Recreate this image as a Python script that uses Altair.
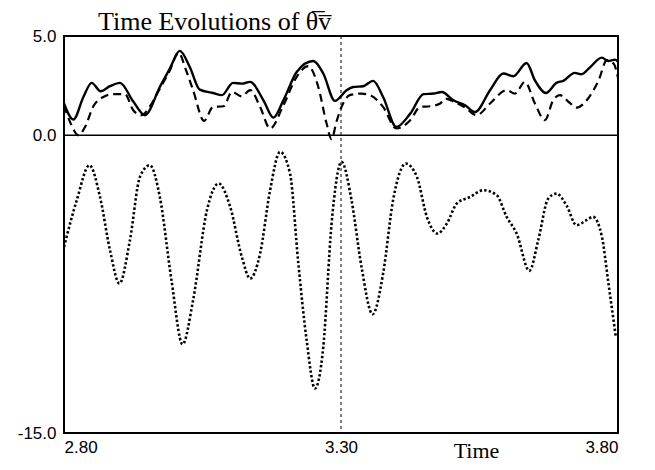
import altair as alt
import pandas as pd

# ---- data ----
solid_t = [2.800, 2.817, 2.835, 2.850, 2.866, 2.883, 2.901, 2.925, 2.946, 2.973, 2.991, 3.009,
           3.027, 3.045, 3.069, 3.085, 3.105, 3.121, 3.136, 3.160, 3.178, 3.196, 3.220, 3.250,
           3.268, 3.289, 3.310, 3.322, 3.340, 3.358, 3.376, 3.400, 3.425, 3.449, 3.467, 3.482,
           3.503, 3.524, 3.542, 3.569, 3.593, 3.611, 3.635, 3.650, 3.670, 3.689, 3.701, 3.722,
           3.734, 3.749, 3.771, 3.782, 3.795, 3.800]
solid_v = [1.60, 0.79, 1.93, 2.64, 2.22, 2.47, 2.64, 1.70, 1.01, 2.43, 3.36, 4.25,
           3.44, 2.30, 2.13, 2.02, 2.64, 2.60, 2.69, 1.76, 0.89, 1.76, 3.19, 3.74,
           3.11, 1.73, 2.27, 2.43, 2.47, 2.74, 1.93, 0.42, 1.09, 2.07, 2.10, 2.18,
           1.76, 1.51, 1.17, 2.27, 3.11, 2.97, 3.64, 2.77, 2.13, 2.64, 2.74, 3.14,
           3.07, 3.41, 3.91, 3.74, 3.81, 3.70]

dashed_t = [2.800, 2.812, 2.826, 2.838, 2.853, 2.871, 2.889, 2.910, 2.925, 2.940, 2.955, 2.973,
            2.990, 3.007, 3.020, 3.033, 3.053, 3.069, 3.088, 3.103, 3.121, 3.136, 3.154, 3.172,
            3.196, 3.220, 3.241, 3.259, 3.274, 3.283, 3.292, 3.301, 3.316, 3.337, 3.352, 3.376,
            3.400, 3.425, 3.443, 3.461, 3.479, 3.488, 3.503, 3.524, 3.545, 3.569, 3.599, 3.614,
            3.632, 3.650, 3.668, 3.683, 3.695, 3.713, 3.725, 3.746, 3.765, 3.780, 3.792, 3.800]
dashed_v = [1.50, 0.60, 0.00, 0.42, 1.46, 1.93, 2.07, 2.07, 1.26, 1.01, 1.45, 2.35,
            3.20, 4.15, 3.30, 2.27, 0.72, 1.43, 1.46, 2.18, 1.96, 2.27, 1.43, 0.34,
            1.51, 2.94, 3.48, 2.43, 0.59, -0.20, 0.70, 1.43, 2.02, 2.10, 2.02, 1.43,
            0.34, 0.76, 1.43, 1.46, 1.60, 1.85, 1.70, 1.40, 1.01, 1.60, 2.27, 2.10,
            2.69, 1.60, 0.76, 1.76, 2.02, 1.63, 1.39, 1.85, 2.77, 3.78, 3.61, 2.90]

dotted_t = [2.800, 2.823, 2.846, 2.865, 2.883, 2.900, 2.919, 2.937, 2.955, 2.973, 2.994, 3.014,
            3.033, 3.058, 3.079, 3.100, 3.121, 3.136, 3.154, 3.172, 3.190, 3.208, 3.223, 3.238,
            3.253, 3.268, 3.283, 3.301, 3.319, 3.337, 3.357, 3.376, 3.394, 3.417, 3.437, 3.455,
            3.474, 3.491, 3.509, 3.533, 3.557, 3.581, 3.599, 3.617, 3.640, 3.656, 3.674, 3.689,
            3.707, 3.725, 3.743, 3.755, 3.771, 3.782, 3.796]
dotted_v = [-5.63, -3.27, -1.51, -3.11, -5.79, -7.47, -5.29, -2.10, -1.51, -3.11, -7.30, -10.53,
            -8.31, -3.78, -2.43, -3.61, -6.13, -7.22, -5.96, -2.77, -0.84, -1.93, -6.46, -10.33,
            -12.76, -10.66, -4.45, -1.34, -3.27, -6.63, -9.02, -6.97, -3.27, -1.43, -2.10, -4.11,
            -4.95, -4.45, -3.44, -3.11, -2.77, -3.02, -4.11, -4.95, -6.83, -5.29, -3.19, -2.94,
            -3.53, -4.53, -4.28, -4.11, -5.12, -7.30, -10.16]

x_ticks = [2.80, 3.30, 3.80]
y_ticks = [-15.0, 0.0, 5.0]
marker_time = [3.30]
zero_level = [0.0]

solid_df = pd.DataFrame({"t": solid_t, "v": solid_v})
dashed_df = pd.DataFrame({"t": dashed_t, "v": dashed_v})
dotted_df = pd.DataFrame({"t": dotted_t, "v": dotted_v})

xs = alt.Scale(domain=[2.8, 3.8], nice=False, zero=False)
ys = alt.Scale(domain=[-15, 5], nice=False, zero=False)

x_enc = alt.X("t:Q", scale=xs, axis=alt.Axis(
    values=x_ticks, format=".2f", title="Time", grid=False, domain=False, ticks=False,
    labelFont="Liberation Sans", labelFontSize=17, labelColor="black", labelPadding=6,
    titleFont="Liberation Serif", titleFontSize=22, titleFontWeight="normal", titleColor="black",
    titleX=412, titleY=24.5, titleBaseline="alphabetic"))
y_enc = alt.Y("v:Q", scale=ys, axis=alt.Axis(
    values=y_ticks, format=".1f", title=None, grid=False, domain=False, ticks=False,
    labelExpr="replace(datum.label, '\u2212', '-')",
    labelFont="Liberation Sans", labelFontSize=17, labelColor="black", labelPadding=8))

solid = alt.Chart(solid_df).mark_line(color="black", strokeWidth=2.4, interpolate="monotone").encode(x=x_enc, y=y_enc)
dashed = alt.Chart(dashed_df).mark_line(color="black", strokeWidth=2.2, strokeDash=[8, 5], interpolate="monotone").encode(x="t:Q", y="v:Q")
dotted = alt.Chart(dotted_df).mark_line(color="black", strokeWidth=2.6, strokeDash=[2.4, 2.2], interpolate="monotone").encode(x="t:Q", y="v:Q")

zero = alt.Chart(pd.DataFrame({"z": zero_level})).mark_rule(color="black", strokeWidth=1.5).encode(y="z:Q")
vline = alt.Chart(pd.DataFrame({"m": marker_time})).mark_rule(color="black", strokeWidth=1, strokeDash=[3, 3]).encode(x="m:Q")

chart = alt.layer(zero, vline, dotted, dashed, solid).properties(
    width=554, height=397,
    autosize=alt.AutoSizeParams(type="none"),
    padding={"left": 56, "top": 28, "right": 29, "bottom": 29},
    title=alt.TitleParams("Time Evolutions of θ\u0305v\u0305", anchor="start", frame="group",
                          dx=34, dy=13.5, offset=6,
                          font="Liberation Serif", fontSize=26, fontWeight="normal", color="black"),
).configure(background="white").configure_view(stroke="black", strokeWidth=2)

chart.save("out.html", embed_options={"renderer": "svg", "actions": False})
